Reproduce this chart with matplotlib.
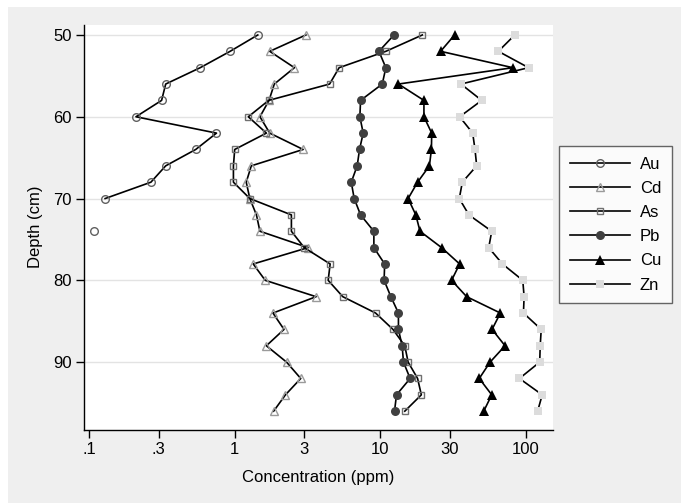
import numpy as np
import matplotlib.pyplot as plt
from matplotlib.patches import Rectangle

plt.rcParams['font.family'] = ['Liberation Sans', 'DejaVu Sans']

# depth of each sample (cm)
depth = [50, 52, 54, 56, 58, 60, 62, 64, 66, 68, 70, 72,
         74, 76, 78, 80, 82, 84, 86, 88, 90, 92, 94, 96]

nan = np.nan
# concentrations (ppm)
au = [1.44, 0.93, 0.58, 0.336, 0.315, 0.21, 0.75, 0.54, 0.336, 0.266, 0.129, nan,
      0.109, nan, nan, nan, nan, nan, nan, nan, nan, nan, nan, nan]
cd = [3.08, 1.74, 2.57, 1.87, 1.72, 1.49, 1.74, 2.95, 1.30, 1.20, 1.27, 1.41,
      1.49, 3.19, 1.34, 1.62, 3.62, 1.83, 2.18, 1.65, 2.27, 2.84, 2.23, 1.85]
as_ = [19.4, 10.9, 5.21, 4.48, 1.71, 1.24, 1.65, 1.0, 0.98, 0.98, 1.27, 2.45,
       2.45, 3.0, 4.52, 4.38, 5.52, 9.27, 12.2, 14.7, 15.5, 18.0, 19.1, 14.7]
pb = [12.4, 9.77, 10.9, 10.3, 7.31, 7.23, 7.62, 7.19, 6.93, 6.31, 6.61, 7.31,
      9.02, 9.02, 10.7, 10.6, 11.8, 13.3, 13.3, 14.1, 14.4, 16.0, 12.9, 12.5]
cu = [32.3, 25.9, 81.1, 13.3, 19.9, 19.9, 22.5, 22.4, 21.7, 18.0, 15.5, 17.5,
      18.7, 26.3, 35.0, 30.8, 39.1, 66.6, 58.4, 71.7, 56.6, 47.7, 58.1, 51.2]
zn = [83.6, 64.5, 104, 35.7, 49.6, 35.0, 43.0, 44.6, 45.8, 36.5, 34.8, 40.5,
      58.1, 55.4, 68.8, 94.9, 96.9, 95.9, 127, 125, 124, 90, 129, 120]

xticks = [0.1, 0.3, 1, 3, 10, 30, 100]
xticklabels = ['.1', '.3', '1', '3', '10', '30', '100']
yticks = [50, 60, 70, 80, 90]

W, H = 681, 503
fig = plt.figure(figsize=(W / 100, H / 100), dpi=100)
fig.patch.set_facecolor('white')
fig.patches.append(Rectangle((8 / W, 0), 1 - 8 / W, (H - 7) / H,
                             transform=fig.transFigure, facecolor='#EFEFEF',
                             edgecolor='none', zorder=-10))

ax = fig.add_axes([84 / W, 1 - 430 / H, (553 - 84) / W, (430 - 24.5) / H])
ax.set_facecolor('white')

series = [
    ('Au', au, dict(marker='o', mfc='none', mec='#606060', ms=5.5, mew=1.0)),
    ('Cd', cd, dict(marker='^', mfc='none', mec='#9a9a9a', ms=6, mew=1.0)),
    ('As', as_, dict(marker='s', mfc='none', mec='#707070', ms=5, mew=1.0)),
    ('Pb', pb, dict(marker='o', mfc='#404040', mec='#404040', ms=6.5, mew=0)),
    ('Cu', cu, dict(marker='^', mfc='black', mec='black', ms=7, mew=0)),
    ('Zn', zn, dict(marker='s', mfc='#dcdcdc', mec='#dcdcdc', ms=6.2, mew=0)),
]
for name, vals, style in series:
    ax.plot(vals, depth, color='black', lw=1.2, label=name, **style)

ax.set_xscale('log')
ax.set_xlim(0.0924, 153)
ax.set_ylim(98.3, 48.72)
ax.set_xticks(xticks)
ax.set_xticklabels(xticklabels)
ax.xaxis.set_minor_locator(plt.NullLocator())
ax.set_yticks(yticks)
ax.tick_params(labelsize=12, length=6, width=1, pad=3)
ax.yaxis.grid(True, color='#e3e3e3', lw=1)
ax.set_axisbelow(True)
for s in ['top', 'right']:
    ax.spines[s].set_visible(False)
for s in ['left', 'bottom']:
    ax.spines[s].set_linewidth(1.0)

ax.set_xlabel('Concentration (ppm)', fontsize=12, labelpad=9)
ax.set_ylabel('Depth (cm)', fontsize=12, labelpad=7)

leg = fig.legend(loc='upper left', bbox_to_anchor=(559 / W, 1 - 146 / H),
                 borderaxespad=0, fontsize=12, handlelength=3.6,
                 labelspacing=0.55, fancybox=False, frameon=True,
                 borderpad=0.65, handletextpad=0.6)
leg.get_frame().set_edgecolor('#404040')
leg.get_frame().set_linewidth(1.0)

fig.savefig('out.png', dpi=100, facecolor=fig.get_facecolor())
